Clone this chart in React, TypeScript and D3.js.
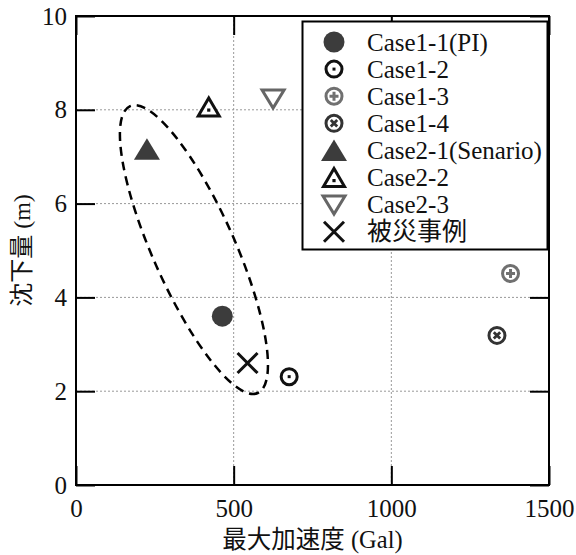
import React, { useRef, useEffect } from 'react';
import * as d3 from 'd3';

// data
const caseNames = ['Case1-1(PI)', 'Case1-2', 'Case1-3', 'Case1-4', 'Case2-1(Senario)', 'Case2-2', 'Case2-3', '被災事例'];
const maxAccel = [464, 676, 1378, 1335, 225, 421, 625, 544]; // Gal
const settlement = [3.6, 2.31, 4.51, 3.19, 7.16, 8.06, 8.24, 2.6]; // m
const markerKinds = ['filledCircle', 'dotCircle', 'plusCircle', 'crossCircle', 'filledTriangle', 'dotTriangle', 'downTriangle', 'cross'];

const xTicks = [0, 500, 1000, 1500];
const yTicks = [0, 2, 4, 6, 8, 10];

// dashed ellipse drawn around the group (center in data units)
const ellipseCenter = { accel: 374, settlement: 5.02 };

const FONT = "'Liberation Serif', 'Times New Roman', 'Noto Sans CJK JP', serif";

const drawMarker = (g, kind, cx, cy) => {
  const m = g.append('g').attr('transform', `translate(${cx},${cy})`);
  const dark = '#3c3c3c';
  if (kind === 'filledCircle') {
    m.append('circle').attr('r', 10.5).attr('fill', dark);
  } else if (kind === 'dotCircle') {
    m.append('circle').attr('r', 8).attr('fill', 'white').attr('stroke', '#111').attr('stroke-width', 3);
    m.append('rect').attr('x', -1.5).attr('y', -1.5).attr('width', 3).attr('height', 3).attr('fill', '#111');
  } else if (kind === 'plusCircle') {
    const c = '#707070';
    m.append('circle').attr('r', 8).attr('fill', 'white').attr('stroke', c).attr('stroke-width', 3);
    m.append('path').attr('d', 'M-4.5,0H4.5M0,-4.5V4.5').attr('stroke', c).attr('stroke-width', 3);
  } else if (kind === 'crossCircle') {
    const c = '#333';
    m.append('circle').attr('r', 8).attr('fill', 'white').attr('stroke', c).attr('stroke-width', 3);
    m.append('path').attr('d', 'M-3.2,-3.2L3.2,3.2M-3.2,3.2L3.2,-3.2').attr('stroke', c).attr('stroke-width', 2.8);
  } else if (kind === 'filledTriangle') {
    m.append('path').attr('d', 'M0,-11L13,10.5H-13Z').attr('fill', dark);
  } else if (kind === 'dotTriangle') {
    m.append('path').attr('d', 'M0,-9L10.5,9H-10.5Z').attr('fill', 'white').attr('stroke', '#111').attr('stroke-width', 3).attr('stroke-linejoin', 'miter');
    m.append('rect').attr('x', -1.6).attr('y', 1.5).attr('width', 3.2).attr('height', 3.2).attr('fill', '#111');
  } else if (kind === 'downTriangle') {
    m.append('path').attr('d', 'M-11,-8.5H11L0,9.5Z').attr('fill', 'white').attr('stroke', '#666').attr('stroke-width', 3);
  } else if (kind === 'cross') {
    m.append('path').attr('d', 'M-10,-10L10,10M-10,10L10,-10').attr('stroke', '#111').attr('stroke-width', 3);
  }
};

const App = () => {
  const svgRef = useRef(null);

  useEffect(() => {
    const svg = d3.select(svgRef.current);
    svg.selectAll('*').remove();

    const width = 576;
    const height = 555;
    const margin = { top: 16, right: 27, bottom: 70, left: 76 };
    const innerWidth = width - margin.left - margin.right;
    const innerHeight = height - margin.top - margin.bottom;

    const x = d3.scaleLinear().domain([0, 1500]).range([0, innerWidth]);
    const y = d3.scaleLinear().domain([0, 10]).range([innerHeight, 0]);

    const g = svg.append('g').attr('transform', `translate(${margin.left},${margin.top})`);

    // dotted grid
    g.append('g')
      .selectAll('line')
      .data(xTicks.slice(1, -1))
      .join('line')
      .attr('x1', d => x(d)).attr('x2', d => x(d))
      .attr('y1', 0).attr('y2', innerHeight)
      .attr('stroke', '#999').attr('stroke-width', 1).attr('stroke-dasharray', '2,2');
    g.append('g')
      .selectAll('line')
      .data(yTicks.slice(1, -1))
      .join('line')
      .attr('y1', d => y(d)).attr('y2', d => y(d))
      .attr('x1', 0).attr('x2', innerWidth)
      .attr('stroke', '#999').attr('stroke-width', 1).attr('stroke-dasharray', '2,2');

    // axes with inward ticks on all four sides
    const tickLen = 19;
    const styleAxis = sel => {
      sel.select('.domain').remove();
      sel.selectAll('line').attr('stroke', '#000').attr('stroke-width', 2);
      sel.selectAll('text').attr('font-family', FONT).attr('font-size', 25).attr('fill', '#111');
    };
    g.append('g')
      .attr('transform', `translate(0,${innerHeight})`)
      .call(d3.axisBottom(x).tickValues(xTicks).tickSize(-tickLen).tickSizeOuter(0).tickPadding(14).tickFormat(d3.format('d')))
      .call(styleAxis);
    g.append('g')
      .call(d3.axisLeft(y).tickValues(yTicks).tickSize(-tickLen).tickSizeOuter(0).tickPadding(9).tickFormat(d3.format('d')))
      .call(styleAxis);
    g.append('g')
      .call(d3.axisTop(x).tickValues(xTicks).tickSize(-tickLen).tickSizeOuter(0).tickFormat(() => ''))
      .call(styleAxis);
    g.append('g')
      .attr('transform', `translate(${innerWidth},0)`)
      .call(d3.axisRight(y).tickValues(yTicks).tickSize(-tickLen).tickSizeOuter(0).tickFormat(() => ''))
      .call(styleAxis);

    // frame
    g.append('rect')
      .attr('width', innerWidth).attr('height', innerHeight)
      .attr('fill', 'none').attr('stroke', '#000').attr('stroke-width', 2);

    // dashed ellipse
    g.append('ellipse')
      .attr('cx', 0).attr('cy', 0).attr('rx', 157).attr('ry', 41)
      .attr('transform', `translate(${x(ellipseCenter.accel)},${y(ellipseCenter.settlement)}) rotate(66)`)
      .attr('fill', 'none').attr('stroke', '#000').attr('stroke-width', 2.5).attr('stroke-dasharray', '9,6');

    // points
    caseNames.forEach((name, i) => {
      drawMarker(g, markerKinds[i], x(maxAccel[i]), y(settlement[i]));
    });

    // legend
    const legend = svg.append('g').attr('transform', 'translate(302,21)');
    legend.append('rect')
      .attr('x', 0.5).attr('y', 0.5).attr('width', 245).attr('height', 228)
      .attr('fill', 'white').attr('stroke', '#000').attr('stroke-width', 2);
    caseNames.forEach((name, i) => {
      const cy = 21 + i * 27.1;
      drawMarker(legend, markerKinds[i], 32, cy);
      legend.append('text')
        .attr('x', 65).attr('y', cy).attr('dy', '0.35em')
        .attr('font-family', FONT).attr('font-size', 25).attr('fill', '#111')
        .text(name);
    });

    // axis titles
    svg.append('text')
      .attr('x', margin.left + innerWidth / 2).attr('y', 548)
      .attr('text-anchor', 'middle')
      .attr('font-family', FONT).attr('font-size', 24.5).attr('fill', '#111')
      .text('最大加速度 (Gal)');
    svg.append('text')
      .attr('transform', `translate(30,${margin.top + innerHeight / 2}) rotate(-90)`)
      .attr('text-anchor', 'middle')
      .attr('font-family', FONT).attr('font-size', 24).attr('fill', '#111')
      .text('沈下量 (m)');
  }, []);

  return (
    <div style={{ position: 'absolute', left: 0, top: 0 }}>
      <svg ref={svgRef} width={576} height={555} style={{ display: 'block', background: 'white' }}></svg>
    </div>
  );
};

export default App;
